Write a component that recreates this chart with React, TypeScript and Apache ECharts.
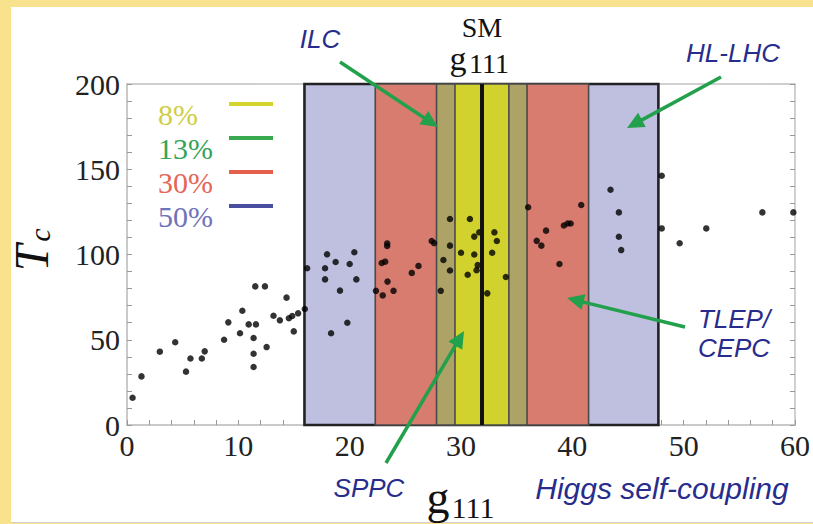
import React, { useEffect, useRef } from "react";
import * as echarts from "echarts";

// ---- data ----
const g111Values = [
  0.5, 1.3, 2.95, 4.33, 5.3, 5.7, 6.72, 6.98, 8.72, 9.1, 10.15, 10.36, 10.93, 11.58, 11.37, 11.37, 11.37, 11.52, 12.39, 12.54, 13.16, 13.73, 14.33, 14.54, 14.84, 14.98, 15.37, 15.97,
  16.18, 17.79, 17.79, 17.97, 18.74, 18.33, 19.13, 19.79, 20.0, 20.42, 20.6,
  22.36, 22.97, 22.88, 23.19, 23.37, 23.37, 23.4, 23.94, 25.58, 26.18, 27.37, 27.58,
  28.18, 28.42, 29.01, 29.01, 29.01, 30.0, 30.8, 31.19, 31.19, 30.6, 31.4, 31.5, 31.64, 32.36, 32.8, 33.0, 33.22, 34.03,
  36.03, 36.8, 37.22, 37.64, 38.84, 39.24, 39.58, 39.85, 40.8,
  43.43, 44.18, 44.18, 44.39,
  48.03, 48.03, 49.64, 52.03, 57.07, 59.85,
];
const tcValues = [
  16, 28.5, 43, 48.5, 31.3, 39, 39, 43.2, 50, 60.2, 53.8, 67, 59, 59, 51, 41.8, 34, 81.3, 81.3, 45.7, 64.1, 61.4, 74.7, 62.6, 63.9, 54.9, 65.5, 68,
  91.9, 91.9, 85.4, 100.1, 95.6, 53.8, 78.8, 60, 94.4, 101.3, 85.4,
  78.7, 76, 95, 95.8, 106.5, 105, 84.1, 78.7, 89.2, 93.3, 107.9, 106.7,
  78.7, 96.8, 120.8, 105.2, 90.6, 101, 120.8, 110.5, 100, 88.1, 90.8, 93.8, 113, 77.2, 101, 113, 107.9, 86.8,
  127.7, 108, 105.2, 114, 94.4, 117, 118.2, 118.2, 129,
  138, 124.7, 110.4, 102.6,
  146.2, 115.3, 106.6, 115.3, 124.7, 124.7,
];
const smG111 = 31.87;
const bandLabels = ["50%", "30%", "13%", "8%"];
const bandLow = [15.94, 22.3, 27.8, 29.46];
const bandHigh = [47.73, 41.46, 35.93, 34.3];
const bandFill = ["#BFC0DF", "#D87C70", "#ADA367", "#D2D22E"];
const legendLabels = ["8%", "13%", "30%", "50%"];
const legendTextColors = ["#CFCE45", "#35A458", "#E66656", "#6F73BA"];
const legendLineColors = ["#D4D42A", "#3AAA50", "#E2604C", "#4A4FA0"];
const xTicks = [0, 10, 20, 30, 40, 50, 60];
const yTicks = [0, 50, 100, 150, 200];

const GREEN = "#22A04C";
const NAVY = "#282C8C";
const SERIF = "Liberation Serif";
const SANS = "Liberation Sans";

function txt(text: string, x: number, y: number, size: number, color: string, family: string, italic = false, align = "center", weight = "normal") {
  return {
    type: "text",
    silent: true,
    z: 100,
    x,
    y,
    style: {
      text,
      fill: color,
      fontFamily: family,
      fontSize: size,
      fontStyle: italic ? "italic" : "normal",
      fontWeight: weight,
      align,
      verticalAlign: "middle",
    },
  };
}

function arrow(x1: number, y1: number, x2: number, y2: number) {
  const dx = x2 - x1, dy = y2 - y1;
  const L = Math.hypot(dx, dy);
  const ux = dx / L, uy = dy / L;
  const hl = 17, hw = 8;
  const bx = x2 - ux * hl, by = y2 - uy * hl;
  return [
    { type: "line", silent: true, z: 100, shape: { x1, y1, x2: bx + ux * 2, y2: by + uy * 2 }, style: { stroke: GREEN, lineWidth: 3.5 } },
    {
      type: "polygon",
      silent: true,
      z: 100,
      shape: { points: [[x2, y2], [bx - uy * hw, by + ux * hw], [bx + uy * hw, by - ux * hw]] },
      style: { fill: GREEN },
    },
  ];
}

export default function App() {
  const ref = useRef<HTMLDivElement>(null);
  useEffect(() => {
    if (!ref.current) return;
    const chart = echarts.init(ref.current, null, { renderer: "svg" });
    const points = g111Values.map((x, i) => [x, tcValues[i]]);
    const bands = bandLow.map((lo, i) => [lo, bandHigh[i], i]);

    const legendGraphics: any[] = [];
    legendLabels.forEach((lab, i) => {
      const cy = 114 + i * 34;
      legendGraphics.push(txt(lab, 158, cy, 30, legendTextColors[i], SERIF, false, "left"));
      legendGraphics.push({
        type: "line",
        silent: true,
        z: 100,
        shape: { x1: 229, y1: cy - 10, x2: 273, y2: cy - 10 },
        style: { stroke: legendLineColors[i], lineWidth: 4 },
      });
    });

    const annot = (text: string, x: number, y: number, size = 26) => txt(text, x, y, size, NAVY, SANS, true, "center", "normal");

    chart.setOption({
      animation: false,
      grid: { left: 127, right: 16, top: 84, bottom: 99, containLabel: false },
      xAxis: [
        {
          type: "value",
          min: 0,
          max: 60,
          interval: 10,
          axisLine: { show: true, onZero: false, lineStyle: { color: "#B8B8B8", width: 1.5 } },
          axisTick: { show: true, inside: true, length: 5, lineStyle: { color: "#999" } },
          minorTick: { show: true, splitNumber: 5, length: 5, lineStyle: { color: "#999" } },
          splitLine: { show: false },
          axisLabel: {
            color: "#222",
            fontFamily: SERIF,
            fontSize: 30,
            margin: 5,
            formatter: (v: number) => (xTicks.includes(v) ? String(v) : ""),
          },
        },
        {
          type: "value",
          position: "top",
          min: 0,
          max: 60,
          axisLine: { show: true, onZero: false, lineStyle: { color: "#C0C0C0", width: 1.5 } },
          axisTick: { show: false },
          axisLabel: { show: false },
          splitLine: { show: false },
        },
      ],
      yAxis: [
        {
          type: "value",
          min: 0,
          max: 200,
          interval: 50,
          axisLine: { show: true, onZero: false, lineStyle: { color: "#B8B8B8", width: 1.5 } },
          axisTick: { show: true, inside: true, length: 5, lineStyle: { color: "#999" } },
          minorTick: { show: true, splitNumber: 5, length: 5, lineStyle: { color: "#999" } },
          splitLine: { show: false },
          axisLabel: {
            color: "#222",
            fontFamily: SERIF,
            fontSize: 30,
            margin: 7,
            formatter: (v: number) => (yTicks.includes(v) ? String(v) : ""),
          },
        },
        {
          type: "value",
          position: "right",
          min: 0,
          max: 200,
          interval: 50,
          axisLine: { show: true, onZero: false, lineStyle: { color: "#C0C0C0", width: 1.5 } },
          axisTick: { show: true, inside: true, length: 5, lineStyle: { color: "#999" } },
          minorTick: { show: true, splitNumber: 5, length: 5, lineStyle: { color: "#999" } },
          axisLabel: { show: false },
          splitLine: { show: false },
        },
      ],
      series: [
        {
          type: "custom",
          name: "bands",
          xAxisIndex: 0,
          yAxisIndex: 0,
          z: 1,
          silent: true,
          data: bands,
          encode: { x: [0, 1] },
          renderItem: (params: any, api: any) => {
            const lo = api.value(0);
            const hi = api.value(1);
            const idx = api.value(2);
            const p1 = api.coord([lo, 200]);
            const p2 = api.coord([hi, 0]);
            return {
              type: "rect",
              shape: { x: p1[0], y: p1[1], width: p2[0] - p1[0], height: p2[1] - p1[1] },
              style: {
                fill: bandFill[idx],
                stroke: idx === 0 ? "#222" : "#4A4A4A",
                lineWidth: idx === 0 ? 2.6 : 1.6,
              },
            };
          },
        },
        {
          type: "scatter",
          name: "points",
          xAxisIndex: 0,
          yAxisIndex: 0,
          z: 3,
          symbol: "circle",
          symbolSize: 6.5,
          itemStyle: { color: "#000" },
          data: points,
          markLine: {
            silent: true,
            symbol: "none",
            label: { show: false },
            lineStyle: { color: "#111", width: 4, type: "solid" },
            data: [{ xAxis: smG111 }],
          },
        },
      ],
      graphic: [
        txt("SM", 482, 27, 28, "#111", SERIF),
        txt("g", 458, 58, 34, "#111", SERIF),
        txt("111", 489, 63, 28, "#111", SERIF),
        txt("g", 438, 497, 46, "#111", SERIF),
        txt("111", 473, 507, 30, "#111", SERIF),
        {
          type: "group",
          x: 31,
          y: 252,
          rotation: Math.PI / 2,
          silent: true,
          z: 100,
          children: [
            { type: "text", x: -6, y: 0, style: { text: "T", fill: "#111", fontFamily: SERIF, fontSize: 48, fontStyle: "italic", align: "center", verticalAlign: "middle" } },
            { type: "text", x: 17, y: 8, style: { text: "c", fill: "#111", fontFamily: SERIF, fontSize: 30, fontStyle: "italic", align: "center", verticalAlign: "middle" } },
          ],
        },
        ...legendGraphics,
        annot("ILC", 320, 39),
        annot("HL-LHC", 733, 53),
        annot("TLEP/", 734, 319),
        annot("CEPC", 734, 348),
        annot("SPPC", 369, 488),
        annot("Higgs self-coupling", 662, 488, 30),
        ...arrow(340, 62, 438, 127),
        ...arrow(721, 77, 627, 128),
        ...arrow(685, 327, 567, 298),
        ...arrow(386, 463, 464, 331),
      ],
    });
    return () => chart.dispose();
  }, []);

  return (
    <div style={{ position: "fixed", left: 0, top: 0, width: 813, height: 524, background: "#F9E28D", overflow: "hidden" }}>
      <div style={{ position: "absolute", left: 11, top: 7, width: 802, height: 515, background: "#fff", borderBottom: "1px solid #d0d0d0" }} />
      <div ref={ref} style={{ position: "absolute", left: 0, top: 0, width: 813, height: 524 }} />
    </div>
  );
}
